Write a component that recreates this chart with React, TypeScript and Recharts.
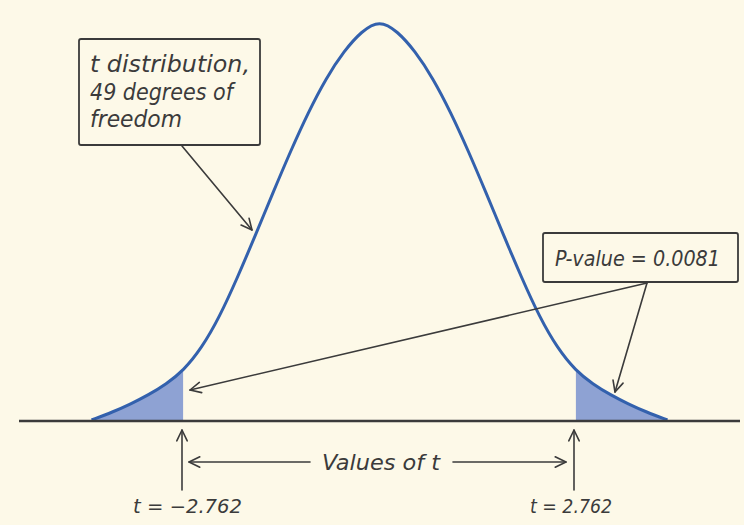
import React from 'react';
import { ComposedChart, Area, Line, XAxis, YAxis, ReferenceLine } from 'recharts';

// curve: t value and height of the drawn density
const tPoints = [
  -4.05, -3.75, -3.5, -3.25, -3.0, -2.762, -2.5, -2.25, -2.0, -1.75, -1.5, -1.25, -1.0, -0.75, -0.5, -0.25,
  0, 0.25, 0.5, 0.75, 1.0, 1.25, 1.5, 1.75, 2.0, 2.25, 2.5, 2.762, 3.0, 3.25, 3.5, 3.75, 4.05,
];
const curveHeights = [
  0.001, 0.009, 0.017, 0.026, 0.037, 0.050, 0.073, 0.104, 0.143, 0.185, 0.228, 0.270, 0.309, 0.343, 0.370, 0.390,
  0.401, 0.390, 0.370, 0.343, 0.309, 0.270, 0.228, 0.185, 0.143, 0.104, 0.073, 0.050, 0.037, 0.026, 0.017, 0.009, 0.001,
];
const tCritical = 2.762;
const baselineRange = [-5.07, 5.07];

const curveLabel = ['t distribution,', '49 degrees of', 'freedom'];
const pValueLabel = 'P-value = 0.0081';
const axisCaption = 'Values of t';
const critLabels = ['t = −2.762', 't = 2.762'];

const BG = '#fdf9e8';
const INK = '#3b3b3b';
const CURVE = '#3361ad';
const SHADE = '#8ea2d3';
const FONT = "'DejaVu Sans Condensed', 'DejaVu Sans', sans-serif";

const chartData = tPoints.map((t, i) => ({
  t,
  density: curveHeights[i],
  leftTail: t <= -tCritical + 1e-9 ? curveHeights[i] : null,
  rightTail: t >= tCritical - 1e-9 ? curveHeights[i] : null,
}));

const Arrow = ({ x1, y1, x2, y2 }: { x1: number; y1: number; x2: number; y2: number }) => {
  const a = Math.atan2(y2 - y1, x2 - x1);
  const len = 12;
  const spread = 0.45;
  const hx1 = x2 - len * Math.cos(a - spread);
  const hy1 = y2 - len * Math.sin(a - spread);
  const hx2 = x2 - len * Math.cos(a + spread);
  const hy2 = y2 - len * Math.sin(a + spread);
  return (
    <g stroke={INK} strokeWidth={1.6} fill="none" strokeLinecap="round" strokeLinejoin="round">
      <line x1={x1} y1={y1} x2={x2} y2={y2} />
      <polyline points={`${hx1},${hy1} ${x2},${y2} ${hx2},${hy2}`} />
    </g>
  );
};

const Txt = ({ x, y, w, size, children }: any) => (
  <text
    x={x}
    y={y}
    fontFamily={FONT}
    fontStyle="italic"
    fontSize={size}
    fill={INK}
    textLength={w}
    lengthAdjust="spacingAndGlyphs"
  >
    {children}
  </text>
);

export default function App() {
  return (
    <div style={{ position: 'fixed', left: 0, top: 0, width: 744, height: 525, background: BG }}>
      <ComposedChart
        width={744}
        height={525}
        data={chartData}
        margin={{ top: 1, right: 4, bottom: 104, left: 19 }}
      >
        <XAxis dataKey="t" type="number" domain={baselineRange} allowDataOverflow hide />
        <YAxis hide type="number" domain={[0, 0.42]} allowDataOverflow />
        <Area
          dataKey="leftTail"
          type="basis"
          baseValue={0}
          stroke="none"
          fill={SHADE}
          fillOpacity={1}
          isAnimationActive={false}
        />
        <Area
          dataKey="rightTail"
          type="basis"
          baseValue={0}
          stroke="none"
          fill={SHADE}
          fillOpacity={1}
          isAnimationActive={false}
        />
        <Line
          dataKey="density"
          type="basis"
          stroke={CURVE}
          strokeWidth={3}
          dot={false}
          activeDot={false}
          isAnimationActive={false}
        />
        <ReferenceLine
          segment={[{ x: baselineRange[0], y: 0 }, { x: baselineRange[1], y: 0 }]}
          stroke={INK}
          strokeWidth={2.5}
        />
      </ComposedChart>

      <svg width={744} height={525} style={{ position: 'absolute', left: 0, top: 0, pointerEvents: 'none' }}>
        {/* curve callout */}
        <rect x={79} y={39} width={181} height={106} rx={2} fill={BG} stroke={INK} strokeWidth={1.8} />
        <Txt x={90} y={72} w={160} size={23}>{curveLabel[0]}</Txt>
        <Txt x={90} y={100} w={143} size={23}>{curveLabel[1]}</Txt>
        <Txt x={90} y={127} w={92} size={23}>{curveLabel[2]}</Txt>
        <Arrow x1={182} y1={146} x2={252} y2={230} />

        {/* p-value callout */}
        <rect x={543} y={233} width={195} height={49} rx={2} fill={BG} stroke={INK} strokeWidth={1.8} />
        <Txt x={555} y={266} w={165} size={22}>{pValueLabel}</Txt>
        <Arrow x1={647} y1={283} x2={190} y2={390} />
        <Arrow x1={647} y1={283} x2={615} y2={392} />

        {/* bottom markers */}
        <Arrow x1={182} y1={490} x2={182} y2={430} />
        <Arrow x1={574} y1={490} x2={574} y2={430} />
        <Arrow x1={310} y1={462} x2={189} y2={462} />
        <Arrow x1={453} y1={462} x2={566} y2={462} />
        <Txt x={322} y={470} w={118} size={22}>{axisCaption}</Txt>
        <Txt x={133} y={513} w={109} size={19}>{critLabels[0]}</Txt>
        <Txt x={530} y={513} w={82} size={19}>{critLabels[1]}</Txt>
      </svg>
    </div>
  );
}
